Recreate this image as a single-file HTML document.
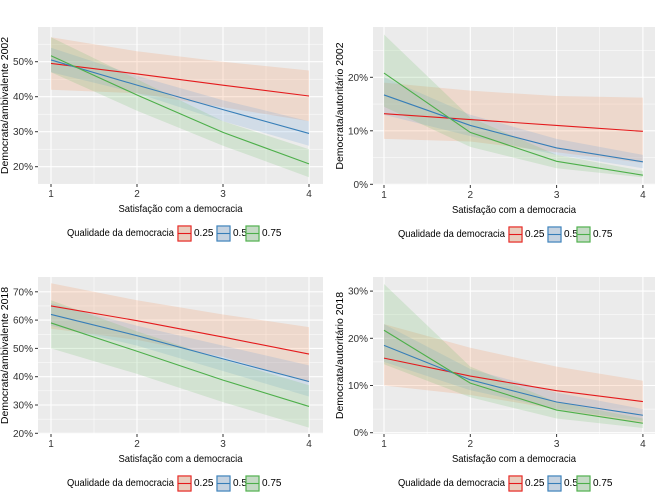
<!DOCTYPE html>
<html><head><meta charset="utf-8">
<style>
html,body{margin:0;padding:0;background:#fff;}
svg{display:block;font-family:"Liberation Sans",sans-serif;}
</style></head>
<body>
<svg id="s" width="661" height="501" xmlns="http://www.w3.org/2000/svg"></svg>
<script>
const S=document.getElementById('s');
let h='';
const cols=['#E41A1C','#377EB8','#4DAF4A'];
const fills=['#F78C50','#6A9FD8','#6CC06A'];
function panel(P){
  const {x0,x1,y0,y1,ax1,step,ymap,ticks,minors,ylab,series,leg}=P;
  h+=`<rect x="${x0}" y="${y0}" width="${x1-x0}" height="${y1-y0}" fill="#EBEBEB"/>`;
  minors.forEach(v=>{const y=ymap(v);h+=`<line x1="${x0}" x2="${x1}" y1="${y}" y2="${y}" stroke="#fff" stroke-width="0.5"/>`;});
  [1.5,2.5,3.5].forEach(v=>{const x=ax1+(v-1)*step;h+=`<line x1="${x}" x2="${x}" y1="${y0}" y2="${y1}" stroke="#fff" stroke-width="0.5"/>`;});
  ticks.forEach(v=>{const y=ymap(v);h+=`<line x1="${x0}" x2="${x1}" y1="${y}" y2="${y}" stroke="#fff" stroke-width="1.1"/>`;
    h+=`<line x1="${x0-3}" x2="${x0}" y1="${y}" y2="${y}" stroke="#333" stroke-width="1"/>`;
    h+=`<text x="${x0-5}" y="${y+3.5}" font-size="10" text-anchor="end" fill="#333">${v}%</text>`;});
  [1,2,3,4].forEach(v=>{const x=ax1+(v-1)*step;h+=`<line x1="${x}" x2="${x}" y1="${y0}" y2="${y1}" stroke="#fff" stroke-width="1.1"/>`;
    h+=`<line x1="${x}" x2="${x}" y1="${y1}" y2="${y1+3}" stroke="#333"/>`;
    h+=`<text x="${x}" y="${y1+13}" font-size="10" text-anchor="middle" fill="#333">${v}</text>`;});
  series.forEach((s,i)=>{
    let pts=s.lo.map((v,k)=>`${ax1+k*step},${ymap(v)}`);
    let up=s.hi.map((v,k)=>`${ax1+k*step},${ymap(v)}`).reverse();
    h+=`<polygon points="${pts.concat(up).join(' ')}" fill="${fills[i]}" fill-opacity="0.2"/>`;
  });
  series.forEach((s,i)=>{
    h+=`<polyline points="${s.m.map((v,k)=>`${ax1+k*step},${ymap(v)}`).join(' ')}" fill="none" stroke="${cols[i]}" stroke-width="1.1"/>`;
  });
  const cx=(x0+x1)/2;
  h+=`<text x="${cx}" y="${y1+28}" font-size="10.5" text-anchor="middle" fill="#000" textLength="124" lengthAdjust="spacingAndGlyphs">Satisfação com a democracia</text>`;
  const cy=(y0+y1)/2;
  h+=`<text transform="translate(${x0-30},${cy}) rotate(-90)" font-size="10.5" text-anchor="middle" fill="#000">${ylab}</text>`;
  const ly=y1+48;
  h+=`<text x="${leg}" y="${ly+4}" font-size="10.5" fill="#000" textLength="107" lengthAdjust="spacingAndGlyphs">Qualidade da democracia</text>`;
  const kx=[leg+111,leg+150,leg+179],lab=['0.25','0.5','0.75'];
  kx.forEach((k,i)=>{
    h+=`<rect x="${k}" y="${ly-6}" width="13" height="15" fill="#E3E3E3" stroke="${cols[i]}" stroke-width="1.2"/>`;
    h+=`<rect x="${k}" y="${ly-6}" width="13" height="15" fill="${fills[i]}" fill-opacity="0.25"/>`;
    h+=`<line x1="${k}" x2="${k+13}" y1="${ly+1.5}" y2="${ly+1.5}" stroke="${cols[i]}" stroke-width="1.1"/>`;
    h+=`<text x="${k+16}" y="${ly+4}" font-size="10" fill="#000">${lab[i]}</text>`;
  });
}
panel({x0:38,x1:323,y0:27,y1:184,ax1:51,step:86,ymap:v=>61.7+(50-v)*3.5,ticks:[20,30,40,50],minors:[15,25,35,45,55],ylab:'Democrata/ambivalente 2002',leg:67,
series:[{m:[49.5,46.5,43.3,40.2],lo:[42,41,37,33],hi:[57,53,50,47.5]},
{m:[50.5,43.3,36.3,29.5],lo:[47,41,33,26],hi:[54,46,39,33]},
{m:[51.7,40.5,29.8,20.8],lo:[47,36,26,17],hi:[57,45,33,25]}]});
panel({x0:373,x1:655,y0:27,y1:185,ax1:384,step:86.3,ymap:v=>184.3-v*5.35,ticks:[0,10,20],minors:[5,15,25],ylab:'Democrata/autoritário 2002',leg:398,
series:[{m:[13.2,12.1,11,9.9],lo:[8.5,8,6,4],hi:[19,17.5,16.5,16.2]},
{m:[16.7,11,6.8,4.2],lo:[13,9,5.5,3],hi:[20,13,8.5,5.5]},
{m:[20.8,9.7,4.3,1.7],lo:[14.5,7,3,1.3],hi:[28,12.5,5.5,2.5]}]});
panel({x0:38,x1:323,y0:277,y1:434,ax1:51,step:86,ymap:v=>433.3-(v-20)*2.83,ticks:[20,30,40,50,60,70],minors:[25,35,45,55,65],ylab:'Democrata/ambivalente 2018',leg:67,
series:[{m:[65,59.8,54,48],lo:[57,53,47,38],hi:[73,67,62,57.5]},
{m:[62,54.5,46.3,38.3],lo:[58,51,42,33],hi:[66,58,51,44]},
{m:[59,49,38.8,29.5],lo:[50,41,31,22],hi:[67,56,46,37]}]});
panel({x0:373,x1:655,y0:277,y1:434,ax1:384,step:86.3,ymap:v=>432.7-v*4.72,ticks:[0,10,20,30],minors:[5,15,25],ylab:'Democrata/autoritário 2018',leg:398,
series:[{m:[15.8,12,8.9,6.6],lo:[10,8,5,2],hi:[23,18,14,11]},
{m:[18.5,11.2,6.5,3.7],lo:[15,9,5,2.5],hi:[23,13.5,8.5,5]},
{m:[21.7,10.5,4.8,2],lo:[14.5,7.5,3,1],hi:[31.5,14,6.5,3]}]});
S.innerHTML=h;
</script>
</body></html>
